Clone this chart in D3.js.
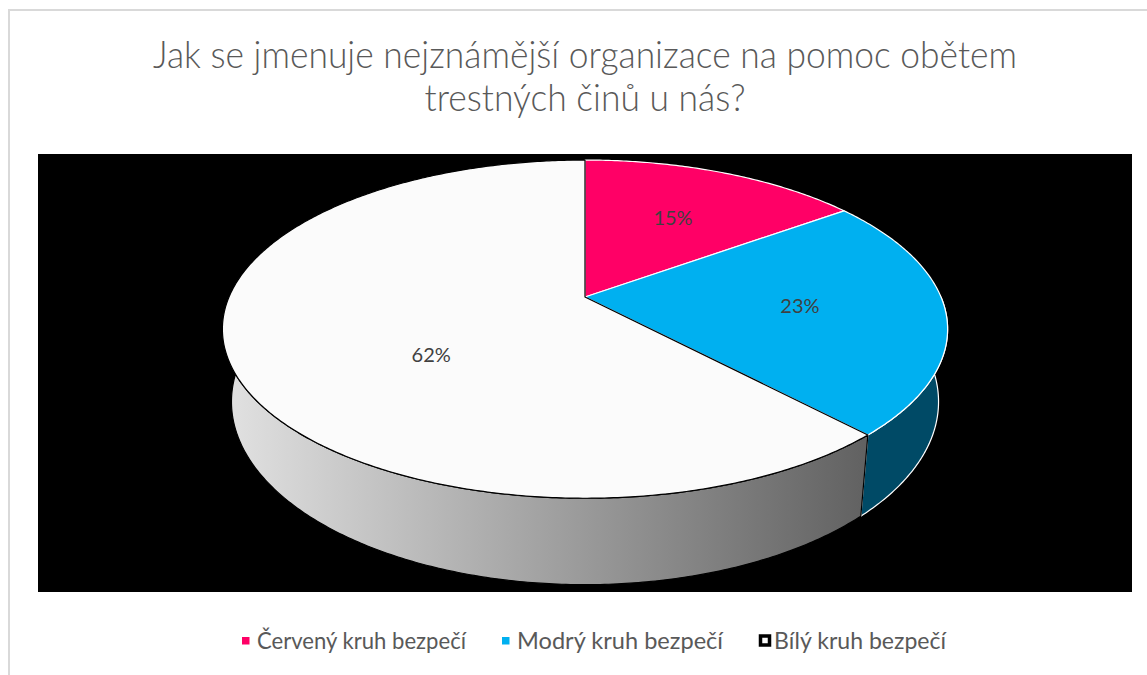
<!DOCTYPE html>
<html>
<head>
<meta charset="utf-8">
<script src="https://cdn.jsdelivr.net/npm/d3@7"></script>
<style>
  body { margin: 0; background: #fff; }
  svg { display: block; }
</style>
</head>
<body>
<script>
// data
var categories = ["Červený kruh bezpečí", "Modrý kruh bezpečí", "Bílý kruh bezpečí"];
var values = [15, 23, 62];
var labels = ["15%", "23%", "62%"];
var titleLines = ["Jak se jmenuje nejznámější organizace na pomoc obětem", "trestných činů u nás?"];

var W = 1147, H = 675;
var topColors = ["#ff0066", "#00b0f0", "#fbfbfb"];
var edgeColors = ["#ffffff", "#ffffff", "#000000"];
var sideColors = ["#80002e", "#004a66", "url(#sideGrad)"];
var fontFamily = "Lato, 'Open Sans', sans-serif";

var svg = d3.select("body").append("svg")
    .attr("width", W)
    .attr("height", H);

var defs = svg.append("defs");
var grad = defs.append("linearGradient")
    .attr("id", "sideGrad")
    .attr("gradientUnits", "userSpaceOnUse")
    .attr("x1", 223).attr("x2", 863).attr("y1", 0).attr("y2", 0);
grad.append("stop").attr("offset", 0).attr("stop-color", "#e2e2e2");
grad.append("stop").attr("offset", 1).attr("stop-color", "#626262");

// chart frame
svg.append("rect")
    .attr("x", 9).attr("y", 10)
    .attr("width", W).attr("height", H)
    .attr("fill", "#fff")
    .attr("stroke", "#d9d9d9")
    .attr("stroke-width", 2);

// plot area
svg.append("rect")
    .attr("x", 38).attr("y", 154)
    .attr("width", 1094).attr("height", 438)
    .attr("fill", "#000");

// title
var title = svg.append("g").attr("class", "title");
var titleWidths = [864, 321];
title.selectAll("text")
    .data(titleLines)
    .enter().append("text")
    .attr("x", 585)
    .attr("y", function(d, i) { return 68 + i * 43; })
    .attr("text-anchor", "middle")
    .attr("font-family", fontFamily)
    .attr("font-weight", 300)
    .attr("font-size", "38px")
    .attr("fill", "#595959")
    .attr("textLength", function(d, i) { return titleWidths[i]; })
    .attr("lengthAdjust", "spacingAndGlyphs")
    .text(function(d) { return d; });

// 3d pie in perspective
var cx = 585, cy = 297, rx = 356, ry = 163,
    persp = 0.19, depth = 70, shrink = 0.975;

function proj(theta, r, bottom) {
  var s = -Math.cos(theta) * r; // +1 is the front edge
  var w = 1 - persp * s;
  var x = r * Math.sin(theta) * rx / w;
  var y = s * ry / w;
  if (bottom) { x *= shrink; y += depth / w; }
  return [cx + x, cy + y];
}

function arcPoints(a0, a1, bottom) {
  var n = Math.max(2, Math.ceil((a1 - a0) / 0.01));
  var pts = [];
  for (var k = 0; k <= n; k++) {
    pts.push(proj(a0 + (a1 - a0) * k / n, 1, bottom));
  }
  return pts;
}

var pie = d3.pie().sort(null).value(function(d) { return d; });
var arcs = pie(values);
var line = d3.line().curve(d3.curveLinearClosed);

var pieG = svg.append("g").attr("class", "pie");

// sides (only front half is visible)
pieG.selectAll(".side")
    .data(arcs)
    .enter().append("path")
    .attr("class", "side")
    .attr("d", function(d) {
      var a0 = Math.max(d.startAngle, Math.PI / 2),
          a1 = Math.min(d.endAngle, Math.PI * 1.5);
      if (a1 <= a0) return null;
      var pts = arcPoints(a0, a1, false).concat(arcPoints(a0, a1, true).reverse());
      return line(pts);
    })
    .attr("fill", function(d, i) { return sideColors[i]; })
    .attr("stroke", function(d, i) { return edgeColors[i]; })
    .attr("stroke-width", 1.2)
    .attr("stroke-linejoin", "round");

// top faces
pieG.selectAll(".top")
    .data(arcs)
    .enter().append("path")
    .attr("class", "top")
    .attr("d", function(d) {
      return line([[cx, cy]].concat(arcPoints(d.startAngle, d.endAngle, false)));
    })
    .attr("fill", function(d, i) { return topColors[i]; })
    .attr("stroke", function(d, i) { return edgeColors[i]; })
    .attr("stroke-width", 1.2)
    .attr("stroke-linejoin", "round");

// data labels
pieG.selectAll(".lbl")
    .data(arcs)
    .enter().append("text")
    .attr("class", "lbl")
    .attr("transform", function(d) {
      var mid = (d.startAngle + d.endAngle) / 2;
      var big = (d.endAngle - d.startAngle) > Math.PI;
      var p = proj(mid, big ? 0.45 : 0.6, false);
      return "translate(" + p[0] + "," + (p[1] + (big ? 30 : 0)) + ")";
    })
    .attr("text-anchor", "middle")
    .attr("dy", "0.35em")
    .attr("font-family", fontFamily)
    .attr("font-size", "20px")
    .attr("fill", "#404040")
    .text(function(d, i) { return labels[i]; });

// legend
var legend = svg.append("g").attr("class", "legend");
var items = legend.selectAll("g")
    .data(categories)
    .enter().append("g");

items.append("rect")
    .attr("x", function(d, i) { return i === 2 ? 1.5 : 0; })
    .attr("y", function(d, i) { return i === 2 ? -5 : -4; })
    .attr("width", function(d, i) { return i === 2 ? 9 : 7.5; })
    .attr("height", function(d, i) { return i === 2 ? 9 : 7.5; })
    .attr("fill", function(d, i) { return topColors[i]; })
    .attr("stroke", function(d, i) { return i === 2 ? "#000" : "none"; })
    .attr("stroke-width", 3.5);

var legendTextWidths = [209, 206, 172];
items.append("text")
    .attr("x", 15)
    .attr("dy", "0.35em")
    .attr("font-family", fontFamily)
    .attr("font-size", "23px")
    .attr("fill", "#595959")
    .attr("textLength", function(d, i) { return legendTextWidths[i]; })
    .attr("lengthAdjust", "spacingAndGlyphs")
    .text(function(d) { return d; });

var gap = 36, lx = 0, offsets = [];
items.each(function(d, i) {
  offsets.push(lx);
  lx += 15 + legendTextWidths[i] + gap;
});
var total = lx - gap;
var startX = 594 - total / 2;
items.attr("transform", function(d, i) {
  return "translate(" + (startX + offsets[i]) + ",641)";
});
</script>
</body>
</html>
